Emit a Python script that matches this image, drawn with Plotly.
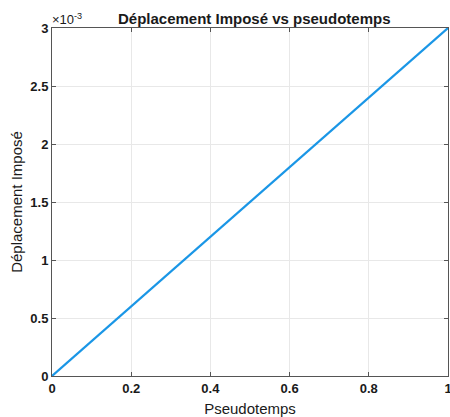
import plotly.graph_objects as go

# Data
pseudotemps = [0.0, 0.2, 0.4, 0.6, 0.8, 1.0]
deplacement = [0.0, 0.0006, 0.0012, 0.0018, 0.0024, 0.0030]

x_ticks = [0, 0.2, 0.4, 0.6, 0.8, 1]
x_ticktext = ["0", "0.2", "0.4", "0.6", "0.8", "1"]
y_ticks = [0, 0.0005, 0.001, 0.0015, 0.002, 0.0025, 0.003]
y_ticktext = ["0", "0.5", "1", "1.5", "2", "2.5", "3"]

FONT = "Liberation Sans, Arial, sans-serif"
TXT = "#1a1a1a"

fig = go.Figure()
fig.add_trace(go.Scatter(
    x=pseudotemps, y=deplacement, mode="lines",
    line=dict(color="#1a96e6", width=2.2),
    showlegend=False,
))

axis_common = dict(
    showline=True, linecolor="#555555", linewidth=1, mirror="ticks",
    showgrid=True, gridcolor="#e8e8e8", gridwidth=1,
    zeroline=False, ticks="inside", ticklen=4, tickcolor="#555555",
    tickfont=dict(family=FONT, size=13, color=TXT, weight="bold"),
    automargin=False, ticklabeloverflow="allow",
)

fig.update_layout(
    width=450, height=417,
    margin=dict(l=52, r=2, t=28, b=41),
    paper_bgcolor="white", plot_bgcolor="white",
    title=dict(
        text="<b>Déplacement Imposé vs pseudotemps</b>",
        x=0.565, xanchor="center", y=0.955, yanchor="middle",
        font=dict(family=FONT, size=15, color=TXT),
    ),
    xaxis=dict(
        range=[0, 1], tickvals=x_ticks, ticktext=x_ticktext,
        title=dict(text="Pseudotemps", font=dict(family=FONT, size=15, color=TXT), standoff=9),
        **axis_common,
    ),
    yaxis=dict(
        range=[0, 0.003], tickvals=y_ticks, ticktext=y_ticktext,
        title=dict(text="Déplacement Imposé", font=dict(family=FONT, size=15, color=TXT), standoff=4),
        **axis_common,
    ),
)

fig.add_annotation(
    text="×10<sup>-3</sup>", xref="paper", yref="paper",
    x=0, y=1, xanchor="left", yanchor="bottom", showarrow=False,
    font=dict(family=FONT, size=13, color=TXT), yshift=-1, xshift=-2,
)

fig.write_html("out.html", config={"displayModeBar": False},
               post_script="document.body.style.margin='0';")
